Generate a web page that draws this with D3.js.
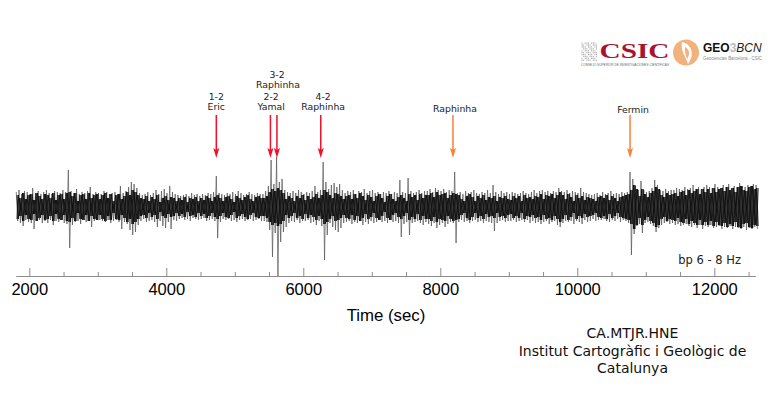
<!DOCTYPE html>
<html>
<head>
<meta charset="utf-8">
<script src="https://cdn.jsdelivr.net/npm/d3@7"></script>
<style>
html, body { margin: 0; padding: 0; background: #fff; }
svg { display: block; }
</style>
</head>
<body>
<svg id="svg" width="784" height="406"></svg>
<script>
// trace envelope, one value per 40 s bin from 1810 s
var binStart = 1810;
var binSize = 40;

var peakUp = [
    15,17,13,16,15,13,19,14,16,13,15,17,14,13,16,15,14,17,15,37,16,14,18,13,15,14,16,20,13,15,
    14,13,16,15,13,14,15,13,21,14,16,20,25,23,19,14,12,13,15,12,14,17,13,16,18,14,21,15,13,12,
    11,12,13,11,14,12,13,11,13,12,14,13,15,31,14,13,12,14,13,15,13,16,14,12,13,15,13,12,14,13,
    13,16,21,47,23,50,25,28,17,15,14,16,14,17,15,13,15,14,16,21,15,17,45,25,18,22,24,20,23,17,
    14,16,15,17,13,16,15,18,14,16,17,14,15,13,15,14,16,13,15,14,27,15,14,29,16,14,15,17,14,16,
    16,18,15,19,17,16,18,15,17,16,35,14,15,13,16,14,15,17,14,13,15,14,17,14,22,15,13,16,14,15,
    13,15,14,13,14,16,14,13,15,17,14,16,17,15,16,14,16,15,19,16,15,17,14,16,15,14,19,15,14,13,
    12,13,14,12,15,13,14,16,13,14,13,15,14,15,35,28,21,17,26,17,15,16,19,27,22,17,16,18,16,17,
    17,19,18,17,20,18,19,22,18,20,18,20,22,20,19,23,20,19,22,20,23,19,21,20,24,21,20,22,21,23,22
];
var peakDown = [
    14,16,19,13,15,16,22,14,13,16,14,16,13,18,14,15,13,16,17,41,18,15,14,17,13,15,14,20,14,13,
    13,14,15,13,16,14,13,15,22,15,17,23,28,25,18,14,12,15,14,13,15,20,14,19,21,15,22,13,14,12,
    11,13,12,14,11,12,13,12,11,14,13,12,14,31,15,12,13,12,14,13,15,13,12,14,13,12,14,13,12,14,
    14,15,23,50,26,69,35,25,20,16,14,15,13,16,14,14,13,16,15,18,14,19,53,28,16,20,23,25,21,16,
    15,14,17,15,16,14,18,15,17,14,16,15,13,15,14,16,13,15,14,16,30,17,15,28,16,15,14,16,18,15,
    17,19,16,21,18,16,20,17,15,16,36,15,13,15,14,16,14,13,15,14,16,14,15,16,24,16,14,13,15,14,
    14,13,15,14,13,15,13,16,14,16,15,17,15,14,17,15,14,18,20,16,14,15,14,17,14,15,17,13,15,14,
    12,14,13,13,12,14,15,13,14,12,15,13,14,16,48,27,19,17,26,16,15,17,19,25,21,18,16,15,17,16,
    18,17,19,18,17,19,20,18,21,18,22,19,20,18,21,20,19,22,20,21,19,22,20,21,22,20,23,21,22,20,22
];
var coreAmp = [
    12,9,14,8,12,13,7,14,11,8,13,12,9,14,7,12,13,8,14,15,11,14,6,12,13,8,14,9,12,13,
    8,12,14,9,13,6,12,13,8,11,15,12,17,15,12,9,8,11,6,10,8,12,5,9,11,7,10,9,6,9,
    7,10,5,9,8,10,6,9,7,11,9,6,10,12,9,6,10,11,8,5,11,9,7,10,12,8,6,10,11,9,
    9,11,15,18,16,19,17,14,8,11,9,6,11,9,12,7,11,8,10,13,9,12,17,15,12,9,14,13,11,8,
    11,12,8,13,9,14,11,7,12,10,6,11,13,9,5,11,13,8,6,10,12,9,6,13,10,12,7,13,9,12,
    12,14,10,15,12,13,14,9,12,14,13,12,8,6,11,13,10,6,11,9,12,7,10,9,11,6,10,9,11,8,
    7,11,9,11,6,12,9,10,8,11,10,13,8,12,11,13,9,12,15,12,8,13,10,6,12,9,11,7,10,9,
    8,6,10,11,9,12,7,11,9,6,10,11,12,13,17,22,18,11,18,13,10,14,16,20,18,12,10,14,12,13,
    14,11,15,16,12,17,14,16,18,13,18,15,18,14,19,15,18,19,16,20,17,19,15,20,21,17,16,20,21,18,19
];

// events: time, arrow colour group
var eventTimes = [4730, 5520, 5615, 6255, 8185, 10770];
var eventKinds = ['goal', 'goal', 'goal', 'goal', 'other', 'other'];

var labelLines = [
    {t: 4730, a: '1-2', b: 'Eric'},
    {t: 5530, a: '2-2', b: 'Yamal'},
    {t: 6290, a: '4-2', b: 'Raphinha'}
];

var majorTicks = [2000, 4000, 6000, 8000, 10000, 12000];
var minorTicks = [2500, 3000, 3500, 4500, 5000, 5500, 6500, 7000, 7500, 8500, 9000, 9500, 10500, 11000, 11500, 12500];

var svg = d3.select('svg');

var x = d3.scaleLinear().domain([1806, 12594]).range([16, 755]);
var y = d3.scaleLinear().domain([-70, 70]).range([277, 137]);

var peakPoints = [];
var corePoints = [];
var corePointsB = [];
peakUp.forEach(function(d, i) {
    var t = binStart + i * binSize;
    peakPoints.push([t, d]);
    peakPoints.push([t + binSize / 2, -peakDown[i]]);
    corePoints.push([t + binSize / 4, coreAmp[i]]);
    corePoints.push([t + binSize * 3 / 4, -coreAmp[i]]);
    corePointsB.push([t + binSize / 4, -coreAmp[i]]);
    corePointsB.push([t + binSize * 3 / 4, coreAmp[i]]);
});

var line = d3.line()
    .x(function(d) { return x(d[0]); })
    .y(function(d) { return y(d[1]); });

// grey spikes around the trace
svg.append('path')
    .attr('d', line(peakPoints))
    .attr('fill', 'none')
    .attr('stroke', '#555')
    .attr('stroke-width', 0.7);

// dense black part, both phases so the middle fills in
svg.append('path')
    .attr('d', line(corePoints))
    .attr('fill', 'none')
    .attr('stroke', '#0c0c0c')
    .attr('stroke-width', 0.9);
svg.append('path')
    .attr('d', line(corePointsB))
    .attr('fill', 'none')
    .attr('stroke', '#0c0c0c')
    .attr('stroke-width', 0.9);

// axis
var axisY = 276;
var axisMinor = d3.axisBottom(x).tickValues(minorTicks).tickSizeInner(-4).tickSizeOuter(0).tickFormat('');
var axisMajor = d3.axisBottom(x).tickValues(majorTicks).tickSizeInner(-8).tickSizeOuter(0).tickPadding(7).tickFormat(d3.format('d'));

svg.append('g').attr('transform', 'translate(0,' + axisY + ')').call(axisMinor);
var gMajor = svg.append('g').attr('transform', 'translate(0,' + axisY + ')').call(axisMajor);

svg.selectAll('.domain, .tick line').attr('stroke', '#8c8c8c');
gMajor.selectAll('text')
    .attr('fill', '#000')
    .style('font-family', '"Liberation Sans"')
    .style('font-size', '16.5px');

svg.append('text')
    .text('Time (sec)')
    .attr('x', 386)
    .attr('y', 321)
    .attr('text-anchor', 'middle')
    .style('font-family', '"Liberation Sans"')
    .style('font-size', '16.8px');

// arrows
var arrowColor = {goal: '#f2102a', other: '#f9803a'};
var arrows = svg.append('g');
eventTimes.forEach(function(t, i) {
    var px = x(t);
    arrows.append('line')
        .attr('x1', px).attr('x2', px)
        .attr('y1', 115).attr('y2', 150)
        .attr('stroke', arrowColor[eventKinds[i]])
        .attr('stroke-width', 1.5);
    arrows.append('path')
        .attr('d', 'M' + (px - 3) + ',148 L' + px + ',150 L' + (px + 3) + ',148 L' + px + ',158 Z')
        .attr('fill', arrowColor[eventKinds[i]]);
});

// event labels
function label(txt, px, py) {
    svg.append('text')
        .text(txt)
        .attr('x', px)
        .attr('y', py)
        .attr('text-anchor', 'middle')
        .attr('fill', '#222')
        .style('font-family', '"DejaVu Sans"')
        .style('font-size', '9.3px');
}
labelLines.forEach(function(d) {
    label(d.a, x(d.t), 100);
    label(d.b, x(d.t), 110);
});
label('3-2', 277, 77.5);
label('Raphinha', 278, 87.5);
label('Raphinha', 455, 112);
label('Fermin', 633, 113);

svg.append('text')
    .text('bp 6 - 8 Hz')
    .attr('x', 741)
    .attr('y', 264)
    .attr('text-anchor', 'end')
    .attr('fill', '#222')
    .style('font-family', '"DejaVu Sans"')
    .style('font-size', '11.5px');

// station note
var note = ['CA.MTJR.HNE', 'Institut Cartogràfic i Geològic de', 'Catalunya'];
svg.append('g').selectAll('text')
    .data(note)
    .enter()
    .append('text')
    .text(function(d) { return d; })
    .attr('x', 632.5)
    .attr('y', function(d, i) { return 338 + i * 17.5; })
    .attr('text-anchor', 'middle')
    .attr('fill', '#111')
    .style('font-family', '"DejaVu Sans"')
    .style('font-size', '14px');

// logos, top right
var logo = svg.append('g');
var gridCells = d3.range(0, 10);
gridCells.forEach(function(a) {
    gridCells.forEach(function(b) {
        if ((a * 3 + b * 5) % 4 == 3) return;
        logo.append('rect')
            .attr('x', 581.5 + a * 1.6)
            .attr('y', 42.5 + b * 1.9)
            .attr('width', 1.1)
            .attr('height', 1.3)
            .attr('fill', '#b4b4b4');
    });
});
logo.append('text')
    .text('CSIC')
    .attr('x', 599.5)
    .attr('y', 57.5)
    .attr('fill', '#a8142e')
    .attr('textLength', 70)
    .attr('lengthAdjust', 'spacingAndGlyphs')
    .style('font-family', '"Liberation Serif"')
    .style('font-weight', 'bold')
    .style('font-size', '21.5px');
logo.append('text')
    .text('CONSEJO SUPERIOR DE INVESTIGACIONES CIENTÍFICAS')
    .attr('x', 581)
    .attr('y', 65.5)
    .attr('fill', '#666')
    .attr('textLength', 88)
    .attr('lengthAdjust', 'spacingAndGlyphs')
    .style('font-family', '"Liberation Sans"')
    .style('font-size', '3.5px');
logo.append('circle')
    .attr('cx', 686)
    .attr('cy', 52.5)
    .attr('r', 13)
    .attr('fill', '#f2b27c');
logo.append('path')
    .attr('d', 'M682,42 C692,44 695,55 688,64 C686,57 680,50 682,42 Z')
    .attr('fill', '#fff');
logo.append('path')
    .attr('d', 'M685,47 C690,49 690,55 687,59 C686,55 684,51 685,47 Z')
    .attr('fill', '#f2b27c');
var geo = logo.append('text')
    .attr('x', 703)
    .attr('y', 52)
    .style('font-family', '"Liberation Sans"')
    .style('font-size', '12px');
geo.append('tspan').text('GEO').style('font-weight', 'bold').attr('fill', '#111');
geo.append('tspan').text('3').attr('fill', '#bbb').style('font-weight', 'bold');
geo.append('tspan').text('BCN').style('font-style', 'italic').attr('fill', '#222');
logo.append('text')
    .text('Geociencias Barcelona - CSIC')
    .attr('x', 703)
    .attr('y', 60)
    .attr('fill', '#888')
    .attr('textLength', 59)
    .attr('lengthAdjust', 'spacingAndGlyphs')
    .style('font-family', '"Liberation Sans"')
    .style('font-size', '5px');
</script>
</body>
</html>
